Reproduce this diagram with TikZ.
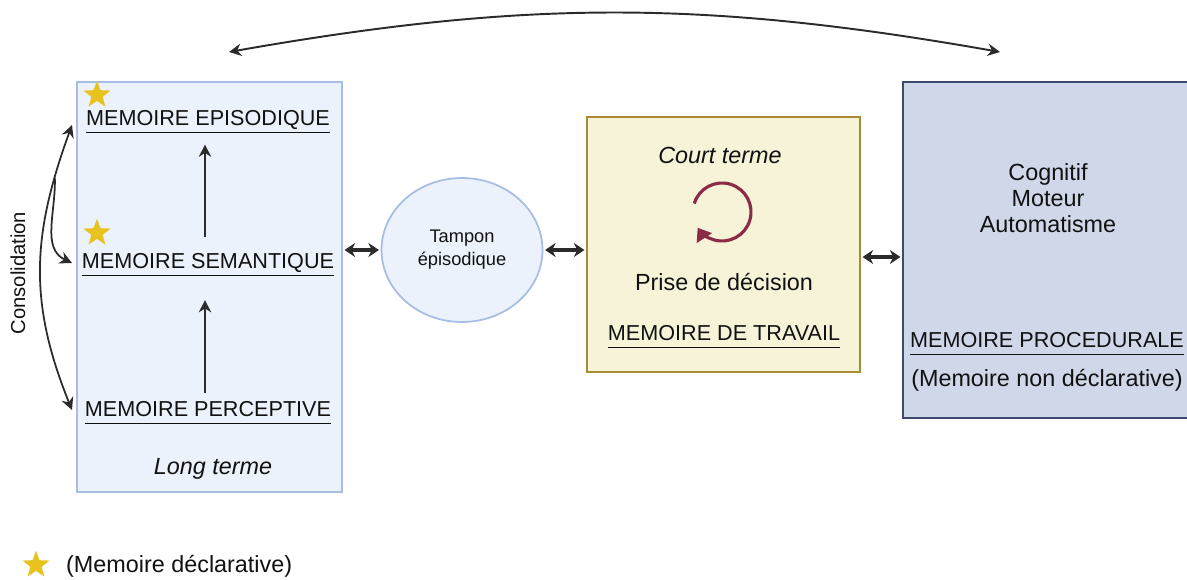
\documentclass[tikz,border=0pt]{standalone}
\usepackage{fontspec}
\setmainfont{Liberation Sans}
\usepackage{tikz}
\usetikzlibrary{shapes,arrows.meta,positioning}

\definecolor{bleuclair}{HTML}{EBF2FB}
\definecolor{bordbleu}{HTML}{A7BDE3}
\definecolor{jauneclair}{HTML}{F6F3D8}
\definecolor{bordjaune}{HTML}{A88B32}
\definecolor{bleugris}{HTML}{D0D7E9}
\definecolor{bordmarine}{HTML}{3E4A72}
\definecolor{jaune}{HTML}{E8C21E}
\definecolor{bordeaux}{HTML}{8B2B46}
\definecolor{fleche}{HTML}{2B2B2B}
\definecolor{texte}{HTML}{111111}

\newcommand{\ul}[1]{\underline{#1\vphantom{Q}}}
\newcommand{\grand}{\fontsize{13.3}{14.8}\selectfont}
\newcommand{\moyen}{\fontsize{12.3}{14}\selectfont}
\newcommand{\petit}{\fontsize{10.4}{13}\selectfont}
\newcommand{\cons}{\fontsize{11.5}{13}\selectfont}

\begin{document}
\begin{tikzpicture}[x=0.02cm, y=0.02cm, text=texte,
  cadre/.style={draw, line width=1pt, inner sep=0pt},
  etoile/.style={star, star points=5, star point ratio=2.4, fill=jaune, minimum size=0.57cm, inner sep=0pt},
  lien/.style={line width=1.8pt, draw=fleche, >={Stealth[length=6pt,width=8pt]}, <->, shorten >=1pt, shorten <=1pt},
  mince/.style={line width=1pt, draw=fleche, >={Stealth[length=7pt,width=7pt]}, ->}]
\useasboundingbox (0,0) rectangle (1187,579);

% memoire a long terme
\node [cadre, draw=bordbleu, fill=bleuclair, minimum width=5.3cm, minimum height=8.2cm] (lt) at (209.5,292) {};
\node [font=\moyen] (epi) at (208,457) {\ul{MEMOIRE EPISODIQUE}};
\node [font=\moyen] (sem) at (208,314) {\ul{MEMOIRE SEMANTIQUE}};
\node [font=\moyen] (perc) at (208,166) {\ul{MEMOIRE PERCEPTIVE}};
\node [font=\grand\itshape] (long) at (213,110) {Long terme};
\node [etoile] (et1) at (97,484) {};
\node [etoile] (et2) at (97,346) {};
\draw [mince, shorten >=0.35cm, shorten <=0.05cm] ([xshift=-0.06cm]perc.north) -- ([xshift=-0.06cm]sem.south);
\draw [mince, shorten >=0.1cm, shorten <=0.2cm] ([xshift=-0.06cm]sem.north) -- ([xshift=-0.06cm]epi.south);

% consolidation
\node [rotate=90, font=\cons] (cons) at (18,306) {Consolidation};
\coordinate (ce) at (72,454);
\coordinate (cs) at (72,316);
\coordinate (cp) at (72,169);
\draw [mince, <->] (ce) to[out=250, in=112, looseness=1.05] coordinate[pos=0.17] (cb) (cp);
\draw [mince] (cb) to[out=-88, in=155] (cs);

% tampon episodique
\node [ellipse, draw=bordbleu, line width=1pt, fill=bleuclair, minimum width=3.22cm, minimum height=2.88cm, align=center, font=\petit] (tp) at (462,329) {Tampon\\épisodique};

% memoire de travail
\node [cadre, draw=bordjaune, fill=jauneclair, minimum width=5.46cm, minimum height=5.1cm] (mt) at (723.5,334.5) {};
\node [font=\grand\itshape] (court) at (720,424) {Court terme};
\coordinate (cyc) at (722,367);
\draw [line width=1.8pt, draw=bordeaux, >={Triangle[length=7pt,width=10pt]}, ->] (cyc) ++(163:29) arc[start angle=163, end angle=-147, radius=29];
\node [font=\grand] (dec) at (724,297) {Prise de décision};
\node [font=\moyen] (trav) at (724,242) {\ul{MEMOIRE DE TRAVAIL}};

% memoire procedurale
\node [cadre, draw=bordmarine, fill=bleugris, minimum width=5.7cm, minimum height=6.72cm] (mp) at (1045.5,329) {};
\node [font=\grand, align=center] (cog) at (1048,381) {Cognitif\\Moteur\\Automatisme};
\node [font=\moyen] (proc) at (1047,235) {\ul{MEMOIRE PROCEDURALE}};
\node [font=\grand] (nondecl) at (1047,199) {(Memoire non déclarative)};

% liens
\draw [lien] (lt.east |- tp.west) -- (tp.west);
\draw [lien] (tp.east) -- (tp.east -| mt.west);
\draw [lien] ([yshift=-0.25cm]mt.east) -- ([yshift=-0.25cm]mt.east -| mp.west);
\coordinate (hg) at (229,527);
\coordinate (hd) at (1000,527);
\draw [mince, line width=1.1pt, <->] (hg) to[bend left=10] (hd);

% legende
\node [etoile] (et3) at (36,14) {};
\node [font=\grand, anchor=west] (leg) at (60,13) {(Memoire déclarative)};
\end{tikzpicture}
\end{document}
